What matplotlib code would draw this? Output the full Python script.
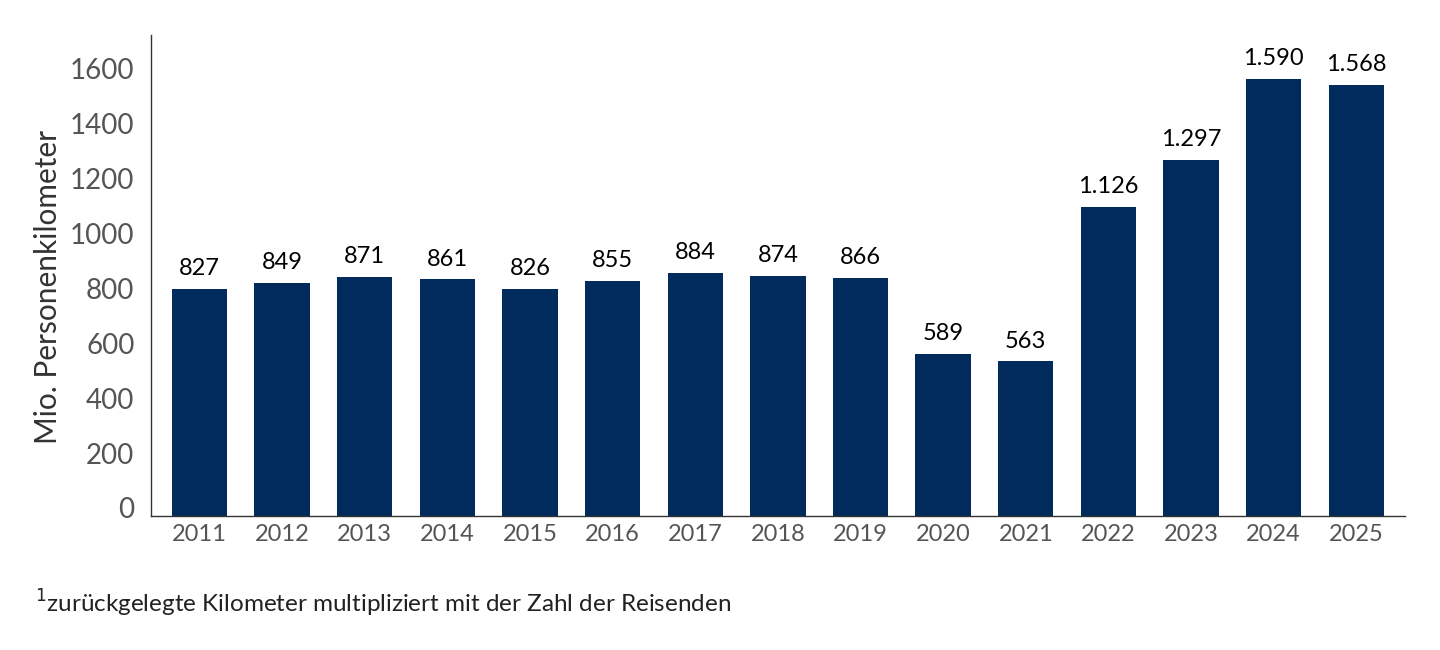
#!/usr/bin/env python3
"""Personenkilometer per year, bar chart."""

import matplotlib
matplotlib.use("Agg")
import matplotlib.pyplot as plt
import matplotlib.transforms as mtransforms

plt.rcParams.update({
    "font.family": ["Lato", "DejaVu Sans"],
    "axes.spines.top": False,
    "axes.spines.right": False,
})

# ── Data ─────────────────────────────────────────────────────────────────
years = ["2011", "2012", "2013", "2014", "2015", "2016", "2017", "2018",
         "2019", "2020", "2021", "2022", "2023", "2024", "2025"]
values = [827, 849, 871, 861, 826, 855, 884, 874, 866, 589, 563,
          1126, 1297, 1590, 1568]
y_ticks = [0, 200, 400, 600, 800, 1000, 1200, 1400, 1600]

BAR_COLOR = "#002B5C"
TEXT_GRAY = "#555555"


def de_format(v):
    return f"{v:,}".replace(",", ".")


fig = plt.figure(figsize=(14.4, 6.5), dpi=100)
ax = fig.add_axes([0.1049, 0.2062, 0.8708, 0.7398])

x = range(len(years))
ax.bar(x, values, width=0.67, color=BAR_COLOR, zorder=2)

for xi, v in zip(x, values):
    ax.annotate(de_format(v), (xi, v), xytext=(0, 7), textcoords="offset points",
                ha="center", va="bottom", fontsize=17, color="black")

ax.set_xlim(-0.587, 14.59)
ax.set_ylim(0, 1750)
ax.set_xticks(list(x))
ax.set_xticklabels(years, fontsize=17, color=TEXT_GRAY)
ax.set_yticks(y_ticks)
ax.set_yticklabels([str(t) for t in y_ticks], fontsize=20, color=TEXT_GRAY)
ax.tick_params(axis="both", length=0)
ax.tick_params(axis="x", pad=6)
ax.tick_params(axis="y", pad=12)
# tick labels sit a little above their tick positions in the original
shift = mtransforms.ScaledTranslation(0, 8 / 100, fig.dpi_scale_trans)
for lbl in ax.get_yticklabels():
    lbl.set_transform(lbl.get_transform() + shift)
for side in ("left", "bottom"):
    ax.spines[side].set_color("#333333")
    ax.spines[side].set_linewidth(1.0)

ax.set_ylabel("Mio. Personenkilometer", fontsize=21.5, color="#333333")
ax.yaxis.set_label_coords(-0.071, 0.476)

fig.text(0.024, 0.072, "$^{1}$zurückgelegte Kilometer multipliziert mit der Zahl der Reisenden",
         fontsize=17.5, color="#222222", ha="left", va="center")

fig.savefig("out.png", dpi=100)
plt.close(fig)
